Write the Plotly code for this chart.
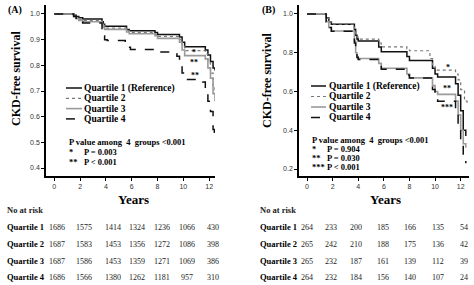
import plotly.graph_objects as go

W, H = 474, 285

# ---------------- data ----------------
quartiles = ["Quartile 1", "Quartile 2", "Quartile 3", "Quartile 4"]
legend_names = ["Quartile 1 (Reference)", "Quartile 2", "Quartile 3", "Quartile 4"]
year_ticks = [0, 2, 4, 6, 8, 10, 12]

# Panel A survival curves (years, survival)
A_t = [0, 1.5, 1.7, 1.9, 2.2, 3.7, 3.8, 3.9, 5.6, 5.8, 7.8, 8.0, 9.7, 9.9, 10.1, 11.7, 11.9, 12.1, 12.3, 12.45]
A_Q1 = [1.0, 0.995, 0.99, 0.985, 0.98, 0.97, 0.96, 0.952, 0.94, 0.935, 0.928, 0.92, 0.91, 0.89, 0.872, 0.86, 0.84, 0.815, 0.79, 0.78]
A_Q2 = [1.0, 0.993, 0.985, 0.978, 0.975, 0.965, 0.955, 0.945, 0.935, 0.928, 0.92, 0.913, 0.9, 0.875, 0.857, 0.845, 0.81, 0.77, 0.72, 0.69]
A_Q3 = [1.0, 0.99, 0.982, 0.975, 0.97, 0.96, 0.948, 0.94, 0.93, 0.923, 0.915, 0.905, 0.89, 0.86, 0.838, 0.825, 0.79, 0.75, 0.69, 0.66]
A_Q4_t = [0, 1.5, 1.7, 1.9, 2.2, 3.7, 3.8, 3.9, 4.1, 5.5, 5.7, 5.9, 7.8, 8.0, 9.2, 9.5, 9.7, 9.9, 10.1, 11.5, 11.7, 11.9, 12.1, 12.3, 12.4]
A_Q4 = [1.0, 0.99, 0.98, 0.97, 0.965, 0.94, 0.915, 0.9, 0.897, 0.885, 0.87, 0.862, 0.857, 0.852, 0.845, 0.835, 0.8, 0.77, 0.745, 0.735, 0.7, 0.66, 0.62, 0.55, 0.51]

# Panel B survival curves
B_t = [0, 1.5, 1.7, 1.9, 3.7, 3.8, 3.9, 4.0, 5.6, 5.8, 7.8, 8.0, 9.8, 10.0, 10.2, 11.6, 11.8, 12.0, 12.2, 12.4]
B_Q2_t = [0, 1.5, 1.7, 1.9, 3.7, 3.8, 3.9, 4.0, 5.6, 5.8, 7.8, 8.0, 9.6, 9.8, 10.0, 11.6, 11.8, 12.0, 12.3, 12.5]
B_Q1 = [1.0, 0.98, 0.96, 0.947, 0.92, 0.89, 0.87, 0.86, 0.83, 0.805, 0.78, 0.76, 0.72, 0.69, 0.675, 0.64, 0.58, 0.5, 0.4, 0.37]
B_Q2 = [1.0, 0.98, 0.96, 0.947, 0.925, 0.895, 0.88, 0.87, 0.85, 0.83, 0.82, 0.81, 0.77, 0.73, 0.71, 0.69, 0.66, 0.61, 0.55, 0.53]
B_Q3 = [1.0, 0.96, 0.93, 0.912, 0.86, 0.8, 0.78, 0.77, 0.745, 0.72, 0.69, 0.67, 0.63, 0.6, 0.585, 0.55, 0.48, 0.4, 0.33, 0.31]
B_Q4 = [1.0, 0.96, 0.93, 0.91, 0.85, 0.8, 0.775, 0.765, 0.74, 0.715, 0.685, 0.67, 0.61, 0.57, 0.55, 0.51, 0.43, 0.34, 0.26, 0.23]

# Numbers at risk
A_risk = [
    [1686, 1575, 1414, 1324, 1236, 1066, 430],
    [1687, 1583, 1453, 1356, 1272, 1086, 398],
    [1687, 1586, 1453, 1359, 1271, 1069, 386],
    [1686, 1566, 1380, 1262, 1181, 957, 310],
]
B_risk = [
    [264, 233, 200, 185, 166, 135, 54],
    [265, 242, 210, 188, 175, 136, 42],
    [265, 232, 187, 161, 139, 112, 39],
    [264, 232, 184, 156, 140, 107, 24],
]

A_pvals = ["P value among  4  groups <0.001", "*     P = 0.003", "**   P < 0.001"]
B_pvals = ["P value among  4  groups <0.001", "*     P = 0.904", "**   P = 0.030", "*** P < 0.001"]

# ---------------- styles ----------------
styles = [
    dict(color="#111111", width=1.5, dash="solid"),
    dict(color="#777777", width=1.2, dash="dot"),
    dict(color="#9a9a9a", width=1.6, dash="solid"),
    dict(color="#111111", width=1.5, dash="dash"),
]
SERIF = "Liberation Serif"
SANS = "Liberation Sans"


def px(x):
    return x / W


def py(y):
    return 1 - y / H


fig = go.Figure()

panelA = [(A_t, A_Q1), (A_t, A_Q2), (A_t, A_Q3), (A_Q4_t, A_Q4)]
panelB = [(B_t, B_Q1), (B_Q2_t, B_Q2), (B_t, B_Q3), (B_t, B_Q4)]
for i, (t, s) in enumerate(panelA):
    fig.add_trace(go.Scatter(x=t, y=s, mode="lines", line=dict(shape="hv", **styles[i]),
                             xaxis="x", yaxis="y", showlegend=False, name=legend_names[i]))
for i, (t, s) in enumerate(panelB):
    fig.add_trace(go.Scatter(x=t, y=s, mode="lines", line=dict(shape="hv", **styles[i]),
                             xaxis="x2", yaxis="y2", showlegend=False, name=legend_names[i]))

axis_common = dict(showline=True, linecolor="black", linewidth=1.5, ticks="outside", ticklen=3,
                   tickwidth=1, tickcolor="black", showgrid=False, zeroline=False,
                   tickfont=dict(family=SANS, size=7, color="#333333"))

fig.update_layout(
    width=W, height=H, margin=dict(l=0, r=0, t=0, b=0),
    paper_bgcolor="white", plot_bgcolor="white",
    xaxis=dict(domain=[px(46), px(215)], range=[-0.64, 12.45], tickvals=year_ticks, anchor="y", **axis_common),
    yaxis=dict(domain=[py(176), py(5)], range=[0.369, 1.035], tickvals=[0.4, 0.5, 0.6, 0.7, 0.8, 0.9, 1.0],
               tickformat=".1f", anchor="x", **axis_common),
    xaxis2=dict(domain=[px(299), px(469)], range=[-0.625, 12.65], tickvals=year_ticks, anchor="y2", **axis_common),
    yaxis2=dict(domain=[py(176), py(5)], range=[0.164, 1.046], tickvals=[0.2, 0.4, 0.6, 0.8, 1.0],
                tickformat=".1f", anchor="x2", **axis_common),
)

annotations = []
shapes = []


def ann(x, y, text, size=8, bold=False, xanchor="left", color="black", family=SERIF, angle=0):
    if bold:
        text = "<b>" + text + "</b>"
    annotations.append(dict(x=px(x), y=py(y), xref="paper", yref="paper", text=text, showarrow=False,
                            xanchor=xanchor, yanchor="middle", textangle=angle, borderpad=0,
                            font=dict(family=family, size=size, color=color)))


# panel labels and titles
ann(7, 10, "(A)", 10, True)
ann(261, 10, "(B)", 10, True)
ann(16, 79, "CKD-free survival", 12, True, "center", angle=-90)
ann(267, 81, "CKD-free survival", 12, True, "center", angle=-90)
ann(133, 199, "Years", 13, True, "center")
ann(385, 199, "Years", 13, True, "center")

# legends
legA = dict(x0=66, x1=82, tx=83, ys=[88, 98.3, 108.6, 118.9])
legB = dict(x0=311, x1=326, tx=328, ys=[86, 96.5, 107, 117.5])
for leg in (legA, legB):
    for i, name in enumerate(legend_names):
        st = styles[i]
        shapes.append(dict(type="line", xref="paper", yref="paper", x0=px(leg["x0"]), x1=px(leg["x1"]),
                           y0=py(leg["ys"][i]), y1=py(leg["ys"][i]),
                           line=dict(color=st["color"], width=st["width"], dash=st["dash"])))
        ann(leg["tx"], leg["ys"][i], name, 9.5, True)

# p values
for i, txt in enumerate(A_pvals):
    ann(68, 142 + i * 10, txt, 8.5, True)
for i, txt in enumerate(B_pvals):
    ann(311, 140 + i * 9, txt, 8.5, True)

# stars on curves
ann(194, 52, "*", 8, True, "center")
ann(194, 62, "**", 8, True, "center")
ann(195, 76, "**", 8, True, "center")
ann(448, 68, "*", 8, True, "center")
ann(447, 88, "**", 8, True, "center")
ann(447, 107, "***", 8, True, "center")

# number at risk tables
row_y = [227, 244, 261, 277]
A_cols = [57, 84, 112.5, 137, 162, 187, 212.5]
B_cols = [306.5, 331, 356, 383, 410, 438, 464]
ann(6, 210, "No at risk", 8.5, True, color="#222222")
ann(259, 210, "No at risk", 8.5, True, color="#222222")
for r in range(4):
    ann(6, row_y[r], quartiles[r], 8.5, True)
    ann(259, row_y[r], quartiles[r], 8.5, True)
    for c in range(7):
        ann(A_cols[c], row_y[r], str(A_risk[r][c]), 8, False, "center", color="#222222")
        ann(B_cols[c], row_y[r], str(B_risk[r][c]), 8, False, "center", color="#222222")

fig.update_layout(annotations=annotations, shapes=shapes)
fig.write_html("out.html")
